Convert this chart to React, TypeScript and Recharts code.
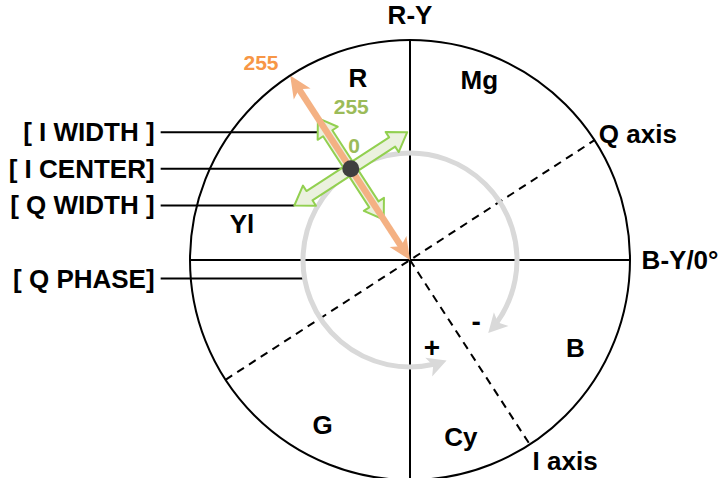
import { ScatterChart, Scatter, XAxis, YAxis, ReferenceLine, ReferenceDot } from "recharts";

const WIDTH = 721;
const HEIGHT = 478;
const FONT = "'Liberation Sans', Arial, sans-serif";

// wheel: level 0 at centre, 255 on the rim
const LEVEL_MAX = 255;
const PX_PER_LEVEL = 220 / LEVEL_MAX;

const AXIS_NAMES = ["R-Y", "B-Y/0°", "Q axis", "I axis"];
const AXIS_LABEL_ANGLES = [90, 0, 29, -52.3];
const AXIS_LABEL_RADII = [284, 313, 302, 294];
const Q_AXIS_ANGLE = 33;
const I_AXIS_ANGLE = -57;

const COLOR_NAMES = ["R", "Mg", "B", "Cy", "G", "Yl"];
const COLOR_ANGLES = [106, 69, -28, -74, -118, 168];
const COLOR_RADII = [219, 224, 217, 214, 216, 199];

// I / Q controls
const I_CENTER_ANGLE = 123;
const I_CENTER_LEVEL = 126;
const I_HALF_WIDTH = 70;
const Q_HALF_WIDTH = 78;
const Q_PHASE_RADIUS = 124;
const Q_PHASE_GAP = [-70, -43];
const Q_PHASE_POINTER = 190;

const CONTROL_NAMES = ["[ I WIDTH ]", "[ I CENTER]", "[ Q WIDTH ]", "[ Q PHASE]"];
const CONTROL_TEXT_X = -296;
const CONTROL_LINE_X = -289;

const RIM_LEVEL_TEXT = ["255"];
const RIM_LEVEL_ANGLES = [127];
const RIM_LEVEL_RADII = [287];

const I_LEVEL_TEXT = ["255", "0"];
const I_LEVEL_ANGLES = [111, 116];
const I_LEVEL_RADII = [190, 148];

const SIGN_TEXT = ["+", "-"];
const SIGN_ANGLES = [-76, -43];
const SIGN_RADII = [105, 105];

const polar = (angle: number, r: number) => ({
  x: r * Math.cos((angle * Math.PI) / 180),
  y: r * Math.sin((angle * Math.PI) / 180),
});
const add = (a: { x: number; y: number }, b: { x: number; y: number }) => ({ x: a.x + b.x, y: a.y + b.y });

const ORIGIN = { x: 0, y: 0 };
const I_CENTER = polar(I_CENTER_ANGLE, I_CENTER_LEVEL);
const I_TIPS = [add(I_CENTER, polar(I_CENTER_ANGLE, -I_HALF_WIDTH)), add(I_CENTER, polar(I_CENTER_ANGLE, I_HALF_WIDTH))];
const Q_TIPS = [add(I_CENTER, polar(Q_AXIS_ANGLE, Q_HALF_WIDTH)), add(I_CENTER, polar(Q_AXIS_ANGLE + 180, Q_HALF_WIDTH))];

const CONTROL_TARGETS = [
  add(I_CENTER, polar(I_CENTER_ANGLE, I_HALF_WIDTH * 0.72)),
  I_CENTER,
  Q_TIPS[1],
  polar(Q_PHASE_POINTER, Q_PHASE_RADIUS),
];

const X_DOMAIN = [-410 / PX_PER_LEVEL, (WIDTH - 410) / PX_PER_LEVEL];
const Y_DOMAIN = [-(HEIGHT - 260) / PX_PER_LEVEL, 260 / PX_PER_LEVEL];

const toLabels = (texts: string[], angles: number[], radii: number[]) =>
  texts.map((text, i) => ({ ...polar(angles[i], radii[i]), text }));

const axisLabels = toLabels(AXIS_NAMES, AXIS_LABEL_ANGLES, AXIS_LABEL_RADII);
const colorLabels = toLabels(COLOR_NAMES, COLOR_ANGLES, COLOR_RADII);
const rimLabels = toLabels(RIM_LEVEL_TEXT, RIM_LEVEL_ANGLES, RIM_LEVEL_RADII);
const iLabels = toLabels(I_LEVEL_TEXT, I_LEVEL_ANGLES, I_LEVEL_RADII);
const signLabels = toLabels(SIGN_TEXT, SIGN_ANGLES, SIGN_RADII);
const controlLabels = CONTROL_NAMES.map((text, i) => ({ x: CONTROL_TEXT_X, y: CONTROL_TARGETS[i].y, text }));

type Pt = number[];
const pts = (arr: Pt[]) => arr.map((p) => p.join(",")).join(" ");

function head(tx: number, ty: number, ux: number, uy: number, len: number, half: number): Pt[] {
  const nx = -uy;
  const ny = ux;
  const bx = tx - ux * len;
  const by = ty - uy * len;
  return [
    [tx, ty],
    [bx + nx * half, by + ny * half],
    [tx - ux * len * 0.75, ty - uy * len * 0.75],
    [bx - nx * half, by - ny * half],
  ];
}

const textShape = (color: string, size: number, anchor: string) => (props: any) => (
  <text
    x={props.cx}
    y={props.cy}
    textAnchor={anchor}
    dominantBaseline="central"
    fill={color}
    fontSize={size}
    fontWeight={700}
    fontFamily={FONT}
  >
    {props.payload.text}
  </text>
);

const OrangeArrow = (p: any) => {
  const L = Math.hypot(p.x2 - p.x1, p.y2 - p.y1);
  const ux = (p.x2 - p.x1) / L;
  const uy = (p.y2 - p.y1) / L;
  const len = 22;
  const half = 10;
  const color = "#F4B183";
  return (
    <g>
      <line
        x1={p.x1 + ux * len * 0.7}
        y1={p.y1 + uy * len * 0.7}
        x2={p.x2 - ux * len * 0.7}
        y2={p.y2 - uy * len * 0.7}
        stroke={color}
        strokeWidth={6.5}
      />
      <polygon points={pts(head(p.x2, p.y2, ux, uy, len, half))} fill={color} />
      <polygon points={pts(head(p.x1, p.y1, -ux, -uy, len, half))} fill={color} />
    </g>
  );
};

const BlockArrow = (p: any) => {
  const L = Math.hypot(p.x2 - p.x1, p.y2 - p.y1);
  const ux = (p.x2 - p.x1) / L;
  const uy = (p.y2 - p.y1) / L;
  const nx = -uy;
  const ny = ux;
  const hl = 18;
  const hw = 12;
  const sw = 5.5;
  const a = [p.x1 + ux * hl, p.y1 + uy * hl];
  const b = [p.x2 - ux * hl, p.y2 - uy * hl];
  const poly: Pt[] = [
    [p.x1, p.y1],
    [a[0] + nx * hw, a[1] + ny * hw],
    [a[0] + nx * sw, a[1] + ny * sw],
    [b[0] + nx * sw, b[1] + ny * sw],
    [b[0] + nx * hw, b[1] + ny * hw],
    [p.x2, p.y2],
    [b[0] - nx * hw, b[1] - ny * hw],
    [b[0] - nx * sw, b[1] - ny * sw],
    [a[0] - nx * sw, a[1] - ny * sw],
    [a[0] - nx * hw, a[1] - ny * hw],
  ];
  return <polygon points={pts(poly)} fill="#EBF1DE" stroke="#92D050" strokeWidth={2} strokeLinejoin="round" />;
};

// segment runs centre -> a point on the phase circle; the arc uses its length as radius
const PhaseArc = (p: any) => {
  const cx = p.x1;
  const cy = p.y1;
  const r = Math.hypot(p.x2 - p.x1, p.y2 - p.y1);
  const [plusAt, minusAt] = Q_PHASE_GAP;
  const len = 19;
  const half = 10;
  const trim = ((len * 0.7) / r) * (180 / Math.PI);
  const at = (deg: number) => {
    const t = (deg * Math.PI) / 180;
    return [cx + r * Math.cos(t), cy - r * Math.sin(t)];
  };
  const s = at(plusAt - trim);
  const e = at(minusAt + trim);
  const color = "#D9D9D9";
  const tp = at(plusAt);
  const tm = at(minusAt);
  const ap = (plusAt * Math.PI) / 180;
  const am = (minusAt * Math.PI) / 180;
  return (
    <g>
      <path d={`M${s[0]},${s[1]} A${r},${r} 0 1 1 ${e[0]},${e[1]}`} fill="none" stroke={color} strokeWidth={5} />
      <polygon points={pts(head(tp[0], tp[1], -Math.sin(ap), -Math.cos(ap), len, half))} fill={color} />
      <polygon points={pts(head(tm[0], tm[1], Math.sin(am), Math.cos(am), len, half))} fill={color} />
    </g>
  );
};

export default function App() {
  return (
    <div style={{ position: "fixed", left: 0, top: 0, width: WIDTH, height: HEIGHT, background: "#fff" }}>
      <ScatterChart width={WIDTH} height={HEIGHT} margin={{ top: 0, right: 0, bottom: 0, left: 0 }}>
        <XAxis type="number" dataKey="x" domain={X_DOMAIN} allowDataOverflow hide />
        <YAxis type="number" dataKey="y" domain={Y_DOMAIN} allowDataOverflow hide />

        <ReferenceDot x={0} y={0} r={LEVEL_MAX * PX_PER_LEVEL} fill="none" stroke="#000" strokeWidth={2} ifOverflow="visible" />
        <ReferenceLine segment={[polar(-90, LEVEL_MAX), polar(90, LEVEL_MAX)]} stroke="#000" strokeWidth={2} ifOverflow="visible" />
        <ReferenceLine segment={[polar(180, LEVEL_MAX), polar(0, LEVEL_MAX)]} stroke="#000" strokeWidth={2} ifOverflow="visible" />
        <ReferenceLine
          segment={[polar(Q_AXIS_ANGLE + 180, LEVEL_MAX), polar(Q_AXIS_ANGLE, LEVEL_MAX)]}
          stroke="#000"
          strokeWidth={2}
          strokeDasharray="8 6"
          ifOverflow="visible"
        />
        <ReferenceLine
          segment={[ORIGIN, polar(I_AXIS_ANGLE, LEVEL_MAX)]}
          stroke="#000"
          strokeWidth={2}
          strokeDasharray="8 6"
          ifOverflow="visible"
        />

        {CONTROL_TARGETS.map((t, i) => (
          <ReferenceLine
            key={CONTROL_NAMES[i]}
            segment={[{ x: CONTROL_LINE_X, y: t.y }, { x: t.x, y: t.y }]}
            stroke="#000"
            strokeWidth={2}
            ifOverflow="visible"
          />
        ))}

        <ReferenceLine segment={[ORIGIN, polar(Q_PHASE_GAP[0], Q_PHASE_RADIUS)]} shape={PhaseArc} ifOverflow="visible" />
        <ReferenceLine segment={[Q_TIPS[0], Q_TIPS[1]]} shape={BlockArrow} ifOverflow="visible" />
        <ReferenceLine segment={[I_TIPS[0], I_TIPS[1]]} shape={BlockArrow} ifOverflow="visible" />
        <ReferenceLine segment={[ORIGIN, polar(I_AXIS_ANGLE + 180, LEVEL_MAX)]} shape={OrangeArrow} ifOverflow="visible" />
        <ReferenceDot x={I_CENTER.x} y={I_CENTER.y} r={8.5} fill="#3F3F3F" stroke="none" ifOverflow="visible" />

        <Scatter data={axisLabels} shape={textShape("#000", 26, "middle")} isAnimationActive={false} />
        <Scatter data={colorLabels} shape={textShape("#000", 26, "middle")} isAnimationActive={false} />
        <Scatter data={signLabels} shape={textShape("#000", 28, "middle")} isAnimationActive={false} />
        <Scatter data={controlLabels} shape={textShape("#000", 26, "end")} isAnimationActive={false} />
        <Scatter data={rimLabels} shape={textShape("#F79646", 21, "middle")} isAnimationActive={false} />
        <Scatter data={iLabels} shape={textShape("#9BBB59", 21, "middle")} isAnimationActive={false} />
      </ScatterChart>
    </div>
  );
}
